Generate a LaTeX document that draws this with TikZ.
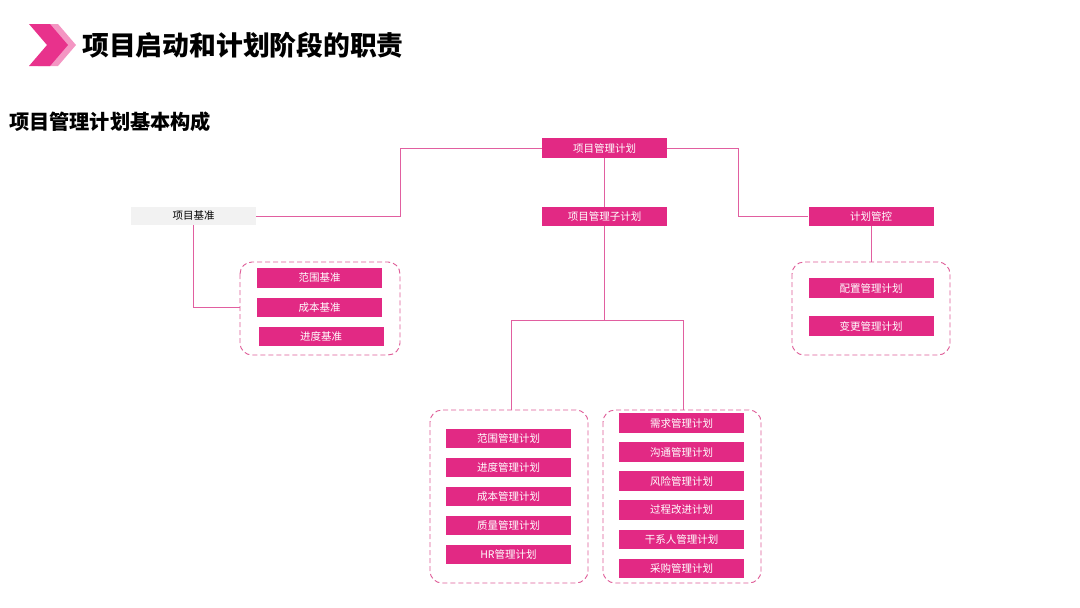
\documentclass[tikz,border=0pt]{standalone}
\usepackage{fontspec}
\setmainfont{Noto Sans CJK SC}
\begin{document}
\begin{tikzpicture}[x=1pt,y=-1pt,
  pbox/.style={fill=boxmag,text=white,minimum width=125pt,minimum height=19.5pt,inner sep=0pt,font=\fontsize{10.5}{12}\selectfont},
  gbox/.style={fill=gray!10,text=black,minimum width=125pt,minimum height=18pt,inner sep=0pt,font=\fontsize{10.5}{12}\selectfont},
  grp/.style={draw=dashpink,dash pattern=on 5pt off 3pt,rounded corners=12pt,line width=0.9pt},
  conn/.style={draw=linepink,line width=1pt}]
\definecolor{boxmag}{RGB}{226,41,132}
\definecolor{dashpink}{RGB}{222,90,150}
\definecolor{linepink}{RGB}{225,95,160}
\definecolor{chevA}{RGB}{232,50,140}
\definecolor{chevB}{RGB}{244,150,195}
\useasboundingbox (0,0) rectangle (1080,608);
% chevrons
\fill[chevB] (38,24) -- (58,24) -- (76,45) -- (58,66) -- (38,66) -- (56,45) -- cycle;
\fill[chevA] (29,24) -- (50,24) -- (68,45) -- (50,66) -- (29,66) -- (47,45) -- cycle;
\node[anchor=west,inner sep=0pt,font=\fontsize{26.8}{30}\selectfont\bfseries] (title) at (82,45) {项目启动和计划阶段的职责};
\node[anchor=west,inner sep=0pt,font=\fontsize{20.2}{22}\selectfont\bfseries] (sub) at (9,122) {项目管理计划基本构成};
% groups
\draw[grp] (240,262) rectangle (400,355);
\draw[grp] (792,262) rectangle (950,355);
\draw[grp] (430,410) rectangle (588,583);
\draw[grp] (603,410) rectangle (761,583);
\coordinate (gL) at (240,307);
\coordinate (gR) at (871,262);
\coordinate (gB1) at (511,410);
\coordinate (gB2) at (683,410);
% main nodes
\node[pbox] (pmp) at (604.5,148) {项目管理计划};
\node[gbox] (base) at (193.5,216) {项目基准};
\node[pbox] (sub2) at (604.5,216.5) {项目管理子计划};
\node[pbox] (ctrl) at (871,216.5) {计划管控};
% left group
\node[pbox] (b1) at (319.5,278) {范围基准};
\node[pbox] (b2) at (319.5,307.5) {成本基准};
\node[pbox] (b3) at (321,336.5) {进度基准};
% right group
\node[pbox] (c1) at (871,288) {配置管理计划};
\node[pbox] (c2) at (871,326) {变更管理计划};
% bottom left
\node[pbox] (s1) at (508.5,438.5) {范围管理计划};
\node[pbox] (s2) at (508.5,467.5) {进度管理计划};
\node[pbox] (s3) at (508.5,496.5) {成本管理计划};
\node[pbox] (s4) at (508.5,525.5) {质量管理计划};
\node[pbox] (s5) at (508.5,554.5) {HR管理计划};
% bottom right
\node[pbox] (t1) at (681.5,423) {需求管理计划};
\node[pbox] (t2) at (681.5,452) {沟通管理计划};
\node[pbox] (t3) at (681.5,481) {风险管理计划};
\node[pbox] (t4) at (681.5,510) {过程改进计划};
\node[pbox] (t5) at (681.5,539.5) {干系人管理计划};
\node[pbox] (t6) at (681.5,568.5) {采购管理计划};
% connectors
\draw[conn] (pmp.west) -- (400,148) -- (400,216) -- (base.east);
\draw[conn] (pmp.east) -- (738,148) -- (738,216.5) -- (ctrl.west);
\draw[conn] (pmp.south) -- (sub2.north);
\draw[conn] (base.south) -- (base.south |- gL) -- (gL);
\draw[conn] (ctrl.south) -- (gR);
\draw[conn] (sub2.south) -- (604.5,320);
\draw[conn] (gB1) -- (511,320) -- (683,320) -- (gB2);
\end{tikzpicture}
\end{document}
